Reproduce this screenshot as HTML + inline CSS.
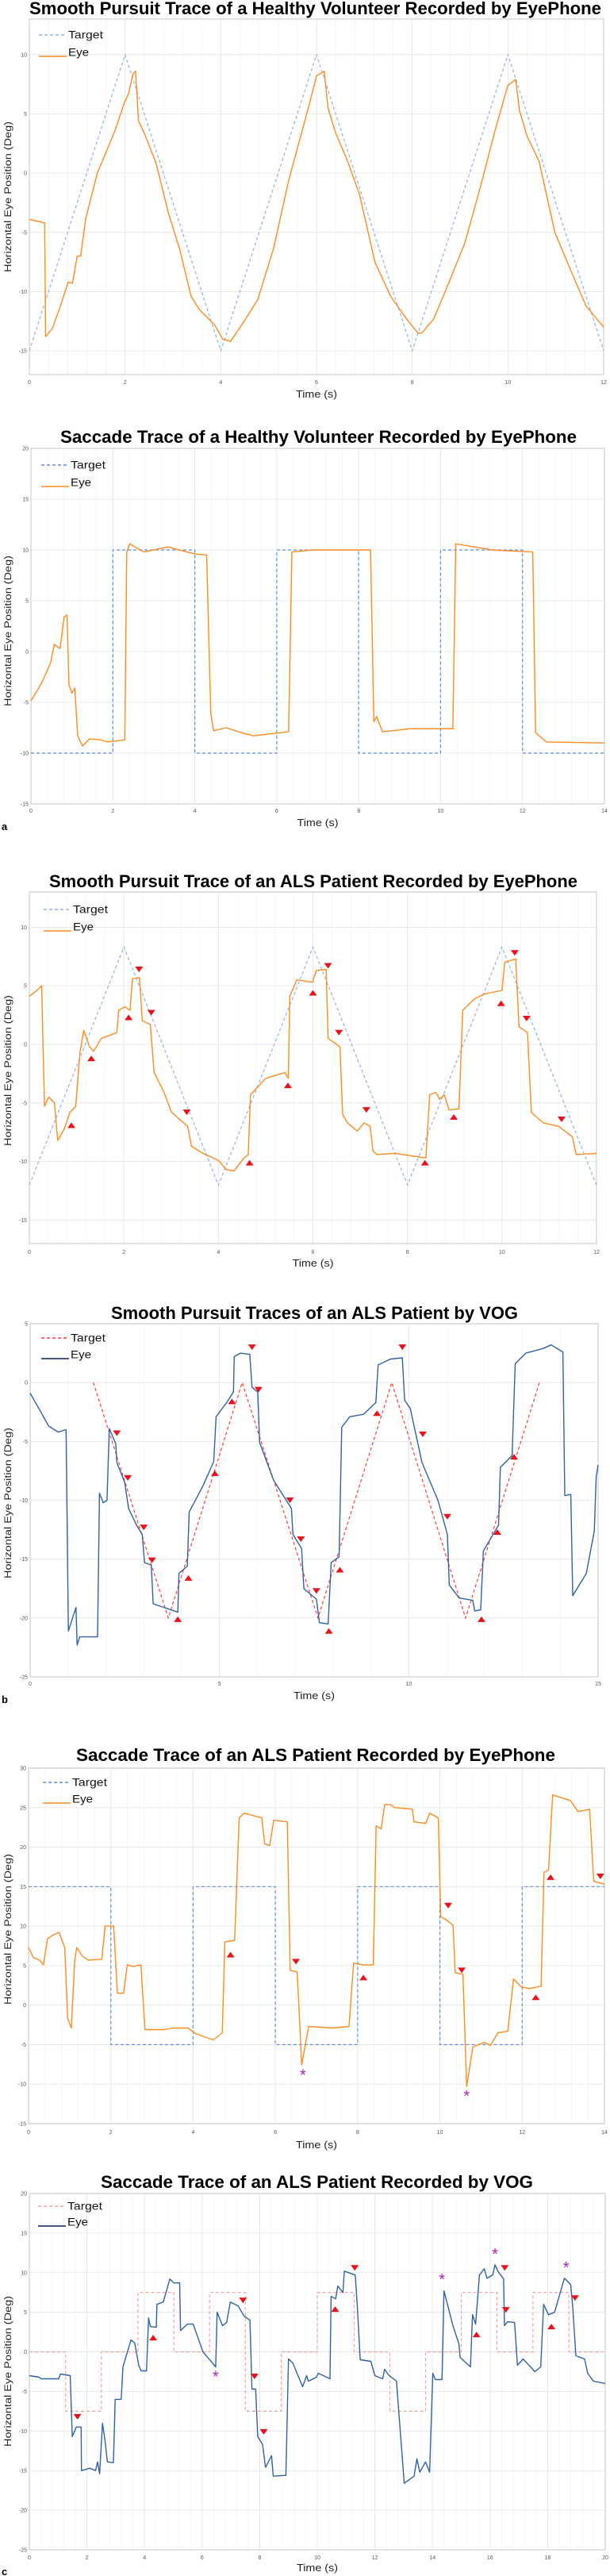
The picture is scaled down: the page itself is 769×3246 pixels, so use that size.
<!DOCTYPE html>
<html><head><meta charset="utf-8"><style>
html,body{margin:0;padding:0;background:#fff;}
svg{display:block;}
text{font-family:"Liberation Sans",sans-serif;}
</style></head><body>
<svg id="fig" width="769" height="3246" viewBox="0 0 769 3246" xmlns="http://www.w3.org/2000/svg"></svg>
<script>
// ---------- DATA ----------
const p1Eye=[[0,-3.9],[0.32,-4.2],[0.34,-13.8],[0.48,-13.1],[0.65,-11.2],[0.81,-9.2],[0.9,-9.3],[1.0,-7],[1.07,-7],[1.18,-3.8],[1.42,0],[1.79,3.6],[1.99,6],[2.07,6.7],[2.17,8.4],[2.22,8.6],[2.28,4.4],[2.4,3.4],[2.65,0.8],[2.9,-3.3],[3.14,-6.4],[3.38,-10.4],[3.55,-11.5],[3.87,-12.8],[4.04,-14],[4.2,-14.2],[4.44,-12.8],[4.77,-10.7],[5.1,-6.4],[5.42,-0.6],[5.83,5.5],[6.0,8.2],[6.16,8.6],[6.24,5.5],[6.4,3.4],[6.65,1],[6.9,-1.8],[7.22,-7.5],[7.55,-10.4],[7.88,-12.3],[8.12,-13.5],[8.2,-13.5],[8.45,-12.3],[8.77,-9.2],[9.1,-5.9],[9.43,-1.1],[9.75,3.9],[10.0,7.4],[10.16,7.9],[10.24,5.3],[10.4,3.1],[10.65,1],[10.98,-5],[11.3,-8.1],[11.63,-11.2],[12,-13]];
const p1Target=[[0,-15],[2,10],[4,-15],[6,10],[8,-15],[10,10],[12,-15]];

const p2Eye=[[0,-4.85],[0.19,-3.6],[0.33,-2.5],[0.48,-1.1],[0.57,0.7],[0.71,0.3],[0.81,3.4],[0.88,3.6],[0.93,-3.3],[1.0,-4.1],[1.07,-3.6],[1.14,-8.3],[1.26,-9.3],[1.43,-8.6],[1.72,-8.7],[1.86,-8.9],[2.29,-8.7],[2.34,9.8],[2.41,10.6],[2.76,9.8],[3.34,10.3],[4.0,9.6],[4.29,9.5],[4.39,-6.1],[4.46,-7.8],[4.77,-7.5],[5.15,-8],[5.43,-8.3],[6.29,-7.9],[6.37,9.8],[6.86,10],[8.29,10],[8.37,-6.9],[8.44,-6.4],[8.58,-7.9],[9.25,-7.6],[10.3,-7.6],[10.37,10.6],[10.68,10.4],[11.25,10],[12.25,9.8],[12.32,-8],[12.58,-8.9],[14,-9]];
const p2Target=[[0,-10],[2,-10],[2,10],[4,10],[4,-10],[6,-10],[6,10],[8,10],[8,-10],[10,-10],[10,10],[12,10],[12,-10],[14,-10]];

const p3Eye=[[0,4.1],[0.16,4.6],[0.26,5],[0.32,-5.3],[0.41,-4.5],[0.53,-5],[0.6,-8.2],[0.74,-7.2],[0.86,-5.8],[0.98,-5.3],[1.07,-0.7],[1.15,1.2],[1.27,-0.2],[1.36,-0.6],[1.52,0.5],[1.85,1],[1.89,2.9],[2.02,3.2],[2.13,2.9],[2.18,5.6],[2.33,5.7],[2.39,2],[2.56,1.7],[2.64,-2.4],[2.85,-4.1],[3.01,-5.8],[3.35,-7],[3.43,-8.7],[3.67,-9.3],[4.0,-9.9],[4.17,-10.7],[4.33,-10.8],[4.54,-9.7],[4.63,-9.4],[4.68,-4.3],[5.0,-2.9],[5.41,-2.4],[5.48,-2.9],[5.51,4.1],[5.66,5.5],[5.99,5.3],[6.07,6.3],[6.28,6.4],[6.32,0.5],[6.57,-0.2],[6.63,-6],[6.73,-6.7],[6.94,-7.4],[7.08,-6.7],[7.21,-7],[7.27,-9.1],[7.35,-9.4],[7.73,-9.3],[8.39,-9.7],[8.47,-4.3],[8.6,-4.1],[8.68,-4.7],[8.78,-4.3],[8.88,-5.6],[9.09,-5.5],[9.17,2.9],[9.42,3.9],[9.63,4.3],[10.0,4.6],[10.06,7],[10.29,7.3],[10.36,1.5],[10.54,1],[10.62,-5.8],[10.87,-6.7],[11.2,-7],[11.49,-7.9],[11.57,-9.4],[12,-9.3]];
const p3Target=[[0,-12],[2,8.3],[4,-12],[6,8.3],[8,-12],[10,8.3],[12,-12]];
const p3Up=[[0.89,-6.9],[1.31,-1.2],[2.1,2.3],[4.66,-10.1],[5.47,-3.5],[6.0,4.4],[8.37,-10.1],[8.98,-6.2],[9.98,3.5]];
const p3Down=[[2.32,6.4],[2.58,2.7],[3.33,-5.8],[6.32,6.7],[6.55,1.0],[7.13,-5.6],[10.27,7.8],[10.52,2.2],[11.26,-6.4]];

const p4Eye=[[0,-0.9],[0.23,-2.2],[0.49,-3.7],[0.74,-4.2],[0.95,-4],[1.01,-21.1],[1.21,-19.1],[1.24,-22.3],[1.31,-21.6],[1.78,-21.6],[1.83,-9.4],[1.93,-10.2],[2.03,-10],[2.09,-3.9],[2.26,-5.2],[2.29,-6.8],[2.5,-8.5],[2.6,-10.7],[2.81,-12.1],[2.96,-12.9],[3.02,-15.3],[3.2,-15.5],[3.25,-18.8],[3.53,-19.1],[3.9,-19.5],[3.93,-16.2],[4.15,-15.6],[4.2,-11],[4.56,-8.8],[4.85,-6.7],[4.91,-2.9],[5.19,-1.7],[5.37,-0.8],[5.39,2.2],[5.55,2.5],[5.8,2.4],[5.86,-0.4],[6.01,-0.8],[6.06,-5.1],[6.43,-8.3],[6.9,-10.7],[6.94,-12.9],[7.17,-14.1],[7.23,-17.5],[7.56,-18.4],[7.64,-20.4],[7.87,-20.5],[7.95,-15.3],[8.16,-14.8],[8.23,-3.8],[8.44,-2.9],[8.8,-2.7],[9.13,-1.7],[9.19,1.5],[9.52,2],[9.83,2.1],[9.89,-1.5],[10.04,-2.2],[10.35,-6.8],[10.77,-10],[11.02,-12.9],[11.07,-17.2],[11.33,-18.3],[11.69,-18.5],[11.74,-19.4],[11.9,-19.3],[11.97,-14.3],[12.37,-12.1],[12.42,-7.2],[12.73,-6.2],[12.81,1.6],[13.09,2.5],[13.55,2.9],[13.76,3.2],[14.07,2.6],[14.12,-9.6],[14.28,-9.5],[14.33,-18.1],[14.69,-16.2],[14.9,-12.6],[14.95,-8],[15,-7]];
const p4Target=[[1.67,0],[3.65,-20],[5.6,0],[7.6,-20],[9.55,0],[11.5,-20],[13.45,0]];
const p4Up=[[3.9,-20.1],[4.18,-16.6],[4.88,-7.7],[5.33,-1.6],[7.89,-21.1],[8.18,-15.9],[9.16,-2.6],[11.92,-20.1],[12.34,-12.7],[12.78,-6.3]];
const p4Down=[[2.29,-4.3],[2.58,-8.1],[3.0,-12.3],[3.22,-15.1],[5.86,3],[6.03,-0.6],[6.86,-10],[7.15,-13.3],[7.56,-17.7],[9.83,3],[10.37,-4.4],[11.02,-11.4]];

const p5Eye=[[0,7.3],[0.12,6],[0.27,5.7],[0.36,5.1],[0.46,8.4],[0.6,8.9],[0.74,9.2],[0.88,7.3],[0.95,-1.7],[1.04,-2.9],[1.12,5.5],[1.17,7.3],[1.31,6.2],[1.45,5.7],[1.78,5.8],[1.86,10],[2.07,10],[2.16,1.5],[2.31,1.5],[2.4,5.1],[2.54,4.9],[2.73,5.1],[2.83,-3.1],[3.3,-3.1],[3.49,-2.9],[3.87,-2.9],[4.06,-3.6],[4.49,-4.4],[4.71,-3.5],[4.77,8],[5.01,8.2],[5.12,23.7],[5.24,24.3],[5.67,23.7],[5.74,20.4],[5.86,20.2],[5.96,23.4],[6.29,23.2],[6.36,4.4],[6.53,4.2],[6.57,0.1],[6.64,-7.6],[6.81,-2.7],[7.38,-2.9],[7.79,-2.7],[7.9,5.3],[8.14,5.1],[8.38,5.1],[8.45,22.7],[8.57,22.3],[8.66,25.4],[8.8,25.4],[8.9,25],[9.33,24.8],[9.37,23.2],[9.66,23],[9.75,24.3],[9.96,23.7],[10.02,11.2],[10.13,10.9],[10.32,10.1],[10.37,4.1],[10.56,3.9],[10.65,-10.3],[10.8,-5.3],[11.08,-4.7],[11.23,-5.1],[11.41,-3.5],[11.65,-3.3],[11.79,3.3],[11.98,2.3],[12.17,2.1],[12.46,2.4],[12.53,16.8],[12.64,17.1],[12.74,26.6],[13.17,25.9],[13.36,24.5],[13.64,24.8],[13.74,15.7],[14,15.3]];
const p5Target=[[0,15],[2,15],[2,-5],[4,-5],[4,15],[6,15],[6,-5],[8,-5],[8,15],[10,15],[10,-5],[12,-5],[12,15],[14,15]];
const p5Up=[[4.91,6.4],[8.14,3.5],[12.33,1],[12.69,16.2]];
const p5Down=[[6.5,5.5],[10.2,12.6],[10.53,4.4],[13.9,16.3]];
const p5Star=[[6.67,-8.7],[10.65,-11.4]];

const p6Eye=[[0,-3],[0.34,-3.2],[0.41,-3.4],[1.02,-3.4],[1.08,-2.8],[1.42,-3],[1.49,-10.7],[1.63,-9.5],[1.8,-9.5],[1.81,-15],[2.1,-14.7],[2.3,-15],[2.37,-13.9],[2.44,-15.4],[2.54,-9],[2.62,-11],[2.71,-13.9],[2.92,-14],[2.98,-6],[3.19,-6],[3.25,-1.9],[3.53,1.5],[3.66,1.1],[3.8,-1.7],[3.88,-2.4],[4.07,-2.4],[4.14,4.3],[4.2,3.2],[4.41,3.1],[4.43,6],[4.65,6.3],[4.88,9.2],[5.02,8.7],[5.22,8.7],[5.25,2.7],[5.49,3.5],[5.69,3.5],[6.03,0],[6.47,-1.9],[6.52,5],[6.71,3.3],[6.85,3.7],[6.98,6.3],[7.25,5.8],[7.46,4.5],[7.66,4],[7.73,-4.7],[7.86,-4.7],[7.93,-10.7],[8.1,-11.7],[8.2,-14.6],[8.41,-13.1],[8.47,-15.7],[8.91,-15.6],[9.0,-0.9],[9.15,-1.4],[9.49,-4.4],[9.63,-3],[9.69,-3.7],[9.97,-3.2],[10.03,-2.7],[10.44,-3.4],[10.48,7],[10.64,6.7],[10.71,8.3],[10.89,7.5],[10.94,10.2],[11.32,9.7],[11.39,5.7],[11.49,-1],[11.86,-1.2],[12,-3],[12.27,-3.4],[12.34,-2.2],[12.47,-2.9],[12.75,-3.7],[13.02,-16.6],[13.36,-15.7],[13.46,-13.5],[13.56,-15.2],[13.76,-13.9],[13.9,-15.2],[14.01,-2.7],[14.1,-3.5],[14.33,-3.5],[14.4,7.7],[14.71,3.3],[14.92,1],[14.96,-0.7],[15.32,-1.9],[15.39,4.7],[15.5,3.5],[15.63,9.7],[15.8,10.5],[15.89,9.3],[16.09,9.7],[16.17,11],[16.27,10.2],[16.47,9.2],[16.5,3.3],[16.61,3.8],[16.85,3.7],[16.95,-1.7],[17.15,-0.9],[17.56,-2.5],[17.76,-1.9],[17.86,6],[18.03,4.7],[18.24,5],[18.58,9.3],[18.8,8.5],[18.87,5.7],[18.98,-0.5],[19.28,-0.9],[19.39,-2.7],[19.59,-3.7],[20,-4]];
const p6Target=[[0,0],[1.26,0],[1.26,-7.5],[2.5,-7.5],[2.5,0],[3.77,0],[3.77,7.5],[5.02,7.5],[5.02,0],[6.26,0],[6.26,7.5],[7.5,7.5],[7.5,-7.5],[8.75,-7.5],[8.75,0],[10,0],[10,7.5],[11.28,7.5],[11.28,0],[12.52,0],[12.52,-7.5],[13.76,-7.5],[13.76,0],[15,0],[15,7.5],[16.24,7.5],[16.24,0],[17.49,0],[17.49,7.5],[18.74,7.5],[18.74,0],[20,0]];
const p6Up=[[4.3,1.8],[10.62,5.4],[15.53,2.2],[18.13,3.2]];
const p6Down=[[1.67,-8.2],[7.42,6.5],[7.82,-3.1],[8.14,-10.1],[11.3,10.6],[16.51,10.6],[16.55,5.3],[18.95,6.8]];
const p6Star=[[6.47,-3],[14.33,9.3],[16.17,12.5],[18.64,10.8]];

const p1YTicks=[-15,-10,-5,0,5,10], p1XTicks=[0,2,4,6,8,10,12];
const p2YTicks=[-15,-10,-5,0,5,10,15,20], p2XTicks=[0,2,4,6,8,10,12,14];
const p3YTicks=[-15,-10,-5,0,5,10], p3XTicks=[0,2,4,6,8,10,12];
const p4YTicks=[-25,-20,-15,-10,-5,0,5], p4XTicks=[0,5,10,15];
const p5YTicks=[-15,-10,-5,0,5,10,15,20,25,30], p5XTicks=[0,2,4,6,8,10,12,14];
const p6YTicks=[-25,-20,-15,-10,-5,0,5,10,15,20], p6XTicks=[0,2,4,6,8,10,12,14,16,18,20];

// ---------- RENDER ----------
const NS="http://www.w3.org/2000/svg";
const svg=document.getElementById('fig');
function mk(tag,attrs,parent,txt){const e=document.createElementNS(NS,tag);for(const k in attrs)e.setAttribute(k,attrs[k]);if(txt!==undefined)e.textContent=txt;(parent||svg).appendChild(e);return e;}

function panel(c){
  const g=mk('g',{});
  
  
  const sx=v=>c.x0+(v-c.xmin)/(c.xmax-c.xmin)*(c.x1-c.x0);
  const sy=v=>c.yb-(v-c.ymin)/(c.ymax-c.ymin)*(c.yb-c.yt);
  const t=mk('text',{x:(c.tx0+c.tx1)/2,y:c.titleY,'text-anchor':'middle','font-size':22,'font-weight':'bold',fill:'#000',textLength:c.tx1-c.tx0,lengthAdjust:'spacingAndGlyphs'},g,c.title);
  
  
  // minor vertical grid
  const step=c.xt[1]-c.xt[0];
  for(let v=c.xmin;v<=c.xmax+1e-9;v+=step/5){mk('line',{x1:sx(v),x2:sx(v),y1:c.yt,y2:c.yb,stroke:'#f0f0f0','stroke-width':0.6},g);}
  c.yticks.forEach(v=>{
    const y=sy(v);
    const gl=mk('line',{x1:c.x0,x2:c.x1,y1:y,y2:y,stroke:'#e4e4e4','stroke-width':0.8},g);
    
    
    const tl=mk('text',{x:c.x0-3,y:y+2.5,'text-anchor':'end','font-size':7,fill:'#555'},g,String(v));
    
    
  });
  c.xt.forEach(v=>{
    const x=sx(v);
    const gl=mk('line',{x1:x,x2:x,y1:c.yt,y2:c.yb,stroke:'#e4e4e4','stroke-width':0.8},g);
    
    
    const tl=mk('text',{x:x,y:c.tickY,'text-anchor':'middle','font-size':7,fill:'#555'},g,String(v));
    
    
  });
  const box=mk('rect',{x:c.x0,y:c.yt,width:c.x1-c.x0,height:c.yb-c.yt,fill:'none',stroke:'#c4c4c4','stroke-width':1},g);
  
  
  const xl=mk('text',{x:(c.x0+c.x1)/2,y:c.timeY,'text-anchor':'middle','font-size':13,fill:'#222',textLength:52,lengthAdjust:'spacingAndGlyphs'},g,'Time (s)');
  
  
  const yl=mk('text',{x:0,y:0,'text-anchor':'middle','font-size':11.5,fill:'#222',transform:`translate(${c.ylx},${c.yly}) rotate(-90)`,textLength:190,lengthAdjust:'spacingAndGlyphs'},g,'Horizontal Eye Position (Deg)');
  
  
  const pts=a=>a.map(p=>sx(p[0]).toFixed(1)+','+sy(p[1]).toFixed(1)).join(' ');
  const tg=mk('polyline',{points:pts(c.target),fill:'none',stroke:c.tCol,'stroke-width':1.2,'stroke-dasharray':'4,3'},g);
  
  
  const ey=mk('polyline',{points:pts(c.eye),fill:'none',stroke:c.eCol,'stroke-width':1.4,'stroke-linejoin':'round'},g);
  
  
  (c.up||[]).forEach(p=>{const x=sx(p[0]),y=sy(p[1]);
    const m=mk('polygon',{points:`${x-5},${y+3.5} ${x+5},${y+3.5} ${x},${y-3.5}`,fill:'#e8121a'},g);
    
    });
  (c.down||[]).forEach(p=>{const x=sx(p[0]),y=sy(p[1]);
    const m=mk('polygon',{points:`${x-5},${y-3.5} ${x+5},${y-3.5} ${x},${y+3.5}`,fill:'#e8121a'},g);
    
    });
  (c.star||[]).forEach(p=>{
    const m=mk('text',{x:sx(p[0]),y:sy(p[1])+8,'text-anchor':'middle','font-size':20,fill:'#b020b0'},g,'*');
    
    });
  // legend
  const lg=mk('g',{},g);
  
  
  mk('line',{x1:c.lx,x2:c.lx+35,y1:c.ly1,y2:c.ly1,stroke:c.tCol,'stroke-width':1.4,'stroke-dasharray':'4,3'},lg);
  const l1=mk('text',{x:c.lx+37,y:c.ly1+4.5,'font-size':14,fill:'#111',textLength:44,lengthAdjust:'spacingAndGlyphs'},lg,'Target');
  
  
  mk('line',{x1:c.lx,x2:c.lx+35,y1:c.ly2+5,y2:c.ly2+5,stroke:c.eLeg||c.eCol,'stroke-width':1.5},lg);
  const l2=mk('text',{x:c.lx+37,y:c.ly2+4.5,'font-size':14,fill:'#111',textLength:26,lengthAdjust:'spacingAndGlyphs'},lg,'Eye');
  
  
  if(c.letter){const L=mk('text',{x:2,y:c.letterY,'font-size':13,'font-weight':'bold',fill:'#000'},g,c.letter);
    
    }
}
const ORANGE='#ff8a1e', LBLUE='#8fb2ec';
panel({name:'smooth-pursuit-healthy-eyephone',title:'Smooth Pursuit Trace of a Healthy Volunteer Recorded by EyePhone',tx0:37,tx1:758,titleY:18,
  x0:37,x1:761,yt:24,yb:472,xmin:0,xmax:12,ymin:-17,ymax:13,yticks:p1YTicks,xt:p1XTicks,tickY:484,timeY:501,ylx:14,yly:248,
  target:p1Target,eye:p1Eye,tCol:LBLUE,eCol:ORANGE,lx:49,ly1:44,ly2:66});
panel({name:'saccade-healthy-eyephone',title:'Saccade Trace of a Healthy Volunteer Recorded by EyePhone',tx0:76,tx1:727,titleY:558,
  x0:39,x1:762,yt:565,yb:1013,xmin:0,xmax:14,ymin:-15,ymax:20,yticks:p2YTicks,xt:p2XTicks,tickY:1024,timeY:1041,ylx:14,yly:795,
  target:p2Target,eye:p2Eye,tCol:'#5b8de0',eCol:ORANGE,lx:52,ly1:586,ly2:608,letter:'a',letterY:1046});
panel({name:'smooth-pursuit-als-eyephone',title:'Smooth Pursuit Trace of an ALS Patient Recorded by EyePhone',tx0:62,tx1:728,titleY:1118,
  x0:37,x1:752,yt:1124,yb:1567,xmin:0,xmax:12,ymin:-17,ymax:13,yticks:p3YTicks,xt:p3XTicks,tickY:1580,timeY:1596,ylx:14,yly:1349,
  target:p3Target,eye:p3Eye,tCol:LBLUE,eCol:ORANGE,lx:55,ly1:1146,ly2:1168,up:p3Up,down:p3Down});
panel({name:'smooth-pursuit-als-vog',title:'Smooth Pursuit Traces of an ALS Patient by VOG',tx0:140,tx1:653,titleY:1662,
  x0:38,x1:754,yt:1668,yb:2113,xmin:0,xmax:15,ymin:-25,ymax:5,yticks:p4YTicks,xt:p4XTicks,tickY:2124,timeY:2141,ylx:14,yly:1894,
  target:p4Target,eye:p4Eye,tCol:'#ff3b3b',eCol:'#2f62a6',eLeg:'#0d1f5c',lx:52,ly1:1686,ly2:1707,up:p4Up,down:p4Down,letter:'b',letterY:2146});
panel({name:'saccade-als-eyephone',title:'Saccade Trace of an ALS Patient Recorded by EyePhone',tx0:96,tx1:700,titleY:2219,
  x0:36,x1:762,yt:2228,yb:2676,xmin:0,xmax:14,ymin:-15,ymax:30,yticks:p5YTicks,xt:p5XTicks,tickY:2689,timeY:2707,ylx:14,yly:2431,
  target:p5Target,eye:p5Eye,tCol:'#5b8de0',eCol:ORANGE,lx:54,ly1:2246,ly2:2267,up:p5Up,down:p5Down,star:p5Star});
panel({name:'saccade-als-vog',title:'Saccade Trace of an ALS Patient Recorded by VOG',tx0:127,tx1:672,titleY:2757,
  x0:37,x1:763,yt:2764,yb:3213,xmin:0,xmax:20,ymin:-25,ymax:20,yticks:p6YTicks,xt:p6XTicks,tickY:3225,timeY:3240,ylx:14,yly:2988,
  target:p6Target,eye:p6Eye,tCol:'#f5a0a0',eCol:'#2f62a6',eLeg:'#0d1f5c',lx:48,ly1:2780,ly2:2800,up:p6Up,down:p6Down,star:p6Star,letter:'c',letterY:3245});
</script>
</body></html>
